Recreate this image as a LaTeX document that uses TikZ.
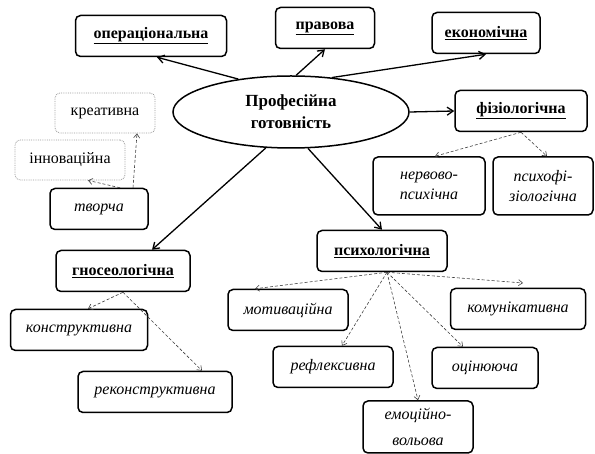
\documentclass[tikz,border=0pt]{standalone}
\usepackage{fontspec}
\setmainfont{Liberation Serif}
\usetikzlibrary{shapes.geometric,arrows.meta}

\begin{document}
\begin{tikzpicture}[x=1pt,y=-1pt,
            top/.style={draw, line width=1.5pt, rounded corners=5pt, minimum height=41pt,
                        font=\fontsize{16}{18}\selectfont\bfseries},
            sub/.style={draw, line width=1.5pt, rounded corners=5pt, minimum height=41pt,
                        align=center, font=\fontsize{16}{20}\selectfont\itshape},
            soft/.style={draw=gray!80, densely dotted, line width=0.8pt, rounded corners=5pt,
                         minimum height=40pt, font=\fontsize{16}{18}\selectfont},
            link/.style={-{Straight Barb[length=6pt,width=8pt]}, line width=1.3pt},
            dlink/.style={-{Straight Barb[length=4pt,width=6pt]}, densely dashed,
                          gray!50!black, line width=0.6pt}]
				\useasboundingbox (0,0) rectangle (595,454);

				\node[ellipse, draw, line width=1.5pt, minimum width=236pt, minimum height=72pt,
				      align=center, font=\fontsize{17}{22}\selectfont\bfseries] (core) at (291,112)
				      {Професійна\\готовність};

				\node[top, minimum width=151pt] (oper) at (151,36) {\underline{операціональна}};
				\node[top, minimum width=99pt] (prav) at (325,28) {\underline{правова}};
				\node[top, minimum width=108pt] (econ) at (486,33) {\underline{економічна}};
				\node[top, minimum width=132pt] (fiz) at (521,111) {\underline{фізіологічна}};
				\node[top, minimum width=134pt] (gnos) at (123,271) {\underline{гносеологічна}};
				\node[top, minimum width=130pt] (psych) at (382,251) {\underline{психологічна}};

				\node[sub, minimum width=112pt, minimum height=58pt] (nerv) at (429,186) {нервово-\\психічна};
				\node[sub, minimum width=100pt, minimum height=58pt] (pfiz) at (543,186) {психофі-\\зіологічна};
				\node[sub, minimum width=98pt] (tvor) at (99,209) {творча};
				\node[soft, minimum width=100pt] (kreat) at (105,113) {креативна};
				\node[soft, minimum width=110pt] (innov) at (70,160) {інноваційна};
				\node[sub, minimum width=137pt] (konst) at (79,330) {конструктивна};
				\node[sub, minimum width=154pt] (rekon) at (155,392) {реконструктивна};
				\node[sub, minimum width=120pt] (motiv) at (288,310) {мотиваційна};
				\node[sub, minimum width=120pt] (refl) at (333,367) {рефлексивна};
				\node[sub, minimum width=135pt] (komun) at (518,309) {комунікативна};
				\node[sub, minimum width=106pt] (ocin) at (485,368) {оцінююча};
				\node[sub, minimum width=110pt, minimum height=52pt,
				      font=\fontsize{16}{26}\selectfont\itshape] (emoc) at (418,427) {емоційно-\\вольова};

				\draw[link] (core.148) -- (oper.south -| 157,0);
				\draw[link] (core.82) -- (prav.south);
				\draw[link] (core.40) -- (econ.south);
				\draw[link] (core.east) -- (fiz.west);
				\draw[link] (core.-65) -- (psych.north);
				\draw[link] (core.-125) -- (gnos.north east -| 152,0);

				\coordinate (tv1) at (tvor.north -| 120,0);
				\coordinate (tv2) at (tvor.north -| 133,0);
				\draw[dlink] (tv1) -- (innov.south -| 88,0);
				\draw[dlink] (tv2) -- (kreat.south -| 137,0);

				\draw[dlink] (gnos.south) -- (konst.north -| 88,0);
				\draw[dlink] (gnos.south) -- (rekon.north -| 202,0);

				\draw[dlink] (fiz.south) -- (nerv.north -| 435,0);
				\draw[dlink] (fiz.south) -- (pfiz.north -| 547,0);

				\coordinate (ps) at (psych.south -| 387,0);
				\coordinate (komtip) at (523,283);
				\draw[dlink] (ps) -- (motiv.north -| 255,0);
				\draw[dlink] (ps) -- (refl.north -| 342,0);
				\draw[dlink] (ps) -- (emoc.north);
				\draw[dlink] (ps) -- (ocin.north -| 463,0);
				\draw[dlink] (ps) -- (komtip);
\end{tikzpicture}
\end{document}
